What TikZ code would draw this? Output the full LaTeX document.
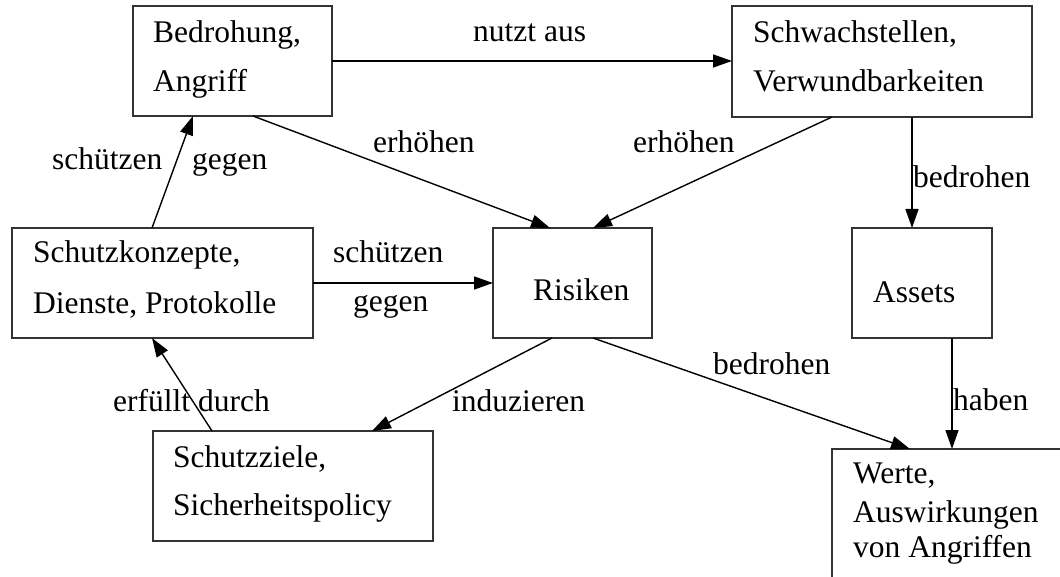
\documentclass[tikz,border=0pt]{standalone}
\usepackage{fontspec}
\setmainfont{Liberation Serif}
\usetikzlibrary{arrows.meta}
\begin{document}
\begin{tikzpicture}[x=1pt,y=-1pt,
  box/.style={draw=black!80,line width=1.8pt,inner sep=0pt,outer sep=0pt,anchor=north west},
  txt/.style={anchor=base west,inner sep=0pt,font=\fontsize{31.5}{40}\selectfont},
  conn/.style={line width=1.4pt,-{Triangle[length=19pt,width=13pt]}}]
\path[use as bounding box] (0,0) rectangle (1060,577);
\clip (0,0) rectangle (1060,577);

% boxes
\node[box,minimum width=199pt,minimum height=110pt] (bedr) at (133,6) {};
\node[box,minimum width=300pt,minimum height=111pt] (schw) at (732,6) {};
\node[box,minimum width=301pt,minimum height=110pt] (konz) at (12,228) {};
\node[box,minimum width=159pt,minimum height=110pt] (risk) at (493,228) {};
\node[box,minimum width=140pt,minimum height=110pt] (asse) at (852,228) {};
\node[box,minimum width=280pt,minimum height=110pt] (ziel) at (153,431) {};
\node[box,minimum width=260pt,minimum height=160pt] (wert) at (832,449) {};

% box texts
\node[txt] (tb1) at (153,43) {Bedrohung,};
\node[txt] (tb2) at (153,92) {Angriff};
\node[txt] (ts1) at (753,43) {Schwachstellen,};
\node[txt] (ts2) at (753,92) {Verwundbarkeiten};
\node[txt] (tk1) at (33,263) {Schutzkonzepte,};
\node[txt] (tk2) at (33,313) {Dienste, Protokolle};
\node[txt] (tr) at (533,301) {Risiken};
\node[txt] (ta) at (873,302) {Assets};
\node[txt] (tz1) at (173,467) {Schutzziele,};
\node[txt] (tz2) at (173,515) {Sicherheitspolicy};
\node[txt] (tw1) at (853,483) {Werte,};
\node[txt] (tw2) at (853,522) {Auswirkungen};
\node[txt] (tw3) at (853,557) {von Angriffen};

% connectors
\draw[conn] (bedr.east) -- (bedr.east -| schw.west);
\draw[conn] ([xshift=120pt]bedr.south west) -- ([xshift=57pt]risk.north west);
\draw[conn] ([xshift=100pt]schw.south west) -- ([xshift=100pt]risk.north west);
\draw[conn] ([xshift=180pt]schw.south west) -- ([xshift=60pt]asse.north west);
\draw[conn] ([xshift=140pt]konz.north west) -- ([xshift=60pt]bedr.south west);
\draw[conn] (konz.east) -- (konz.east -| risk.west);
\draw[conn] ([xshift=59pt]ziel.north west) -- ([xshift=140pt]konz.south west);
\draw[conn] ([xshift=59pt]risk.south west) -- ([xshift=219pt]ziel.north west);
\draw[conn] ([xshift=100pt]risk.south west) -- ([xshift=78pt]wert.north west);
\draw[conn] ([xshift=100pt]asse.south west) -- ([xshift=120pt]wert.north west);

% connector labels
\node[txt] (l1) at (473,42) {nutzt aus};
\node[txt] (l2) at (373,153) {erhöhen};
\node[txt] (l3) at (633,153) {erhöhen};
\node[txt] (l4) at (913,188) {bedrohen};
\node[txt] (l5a) at (52,170) {schützen};
\node[txt] (l5b) at (192,170) {gegen};
\node[txt] (l6a) at (333,263) {schützen};
\node[txt] (l6b) at (353,312) {gegen};
\node[txt] (l7) at (113,411) {erfüllt durch};
\node[txt] (l8) at (452,411) {induzieren};
\node[txt] (l9) at (713,374) {bedrohen};
\node[txt] (l10) at (953,410) {haben};
\end{tikzpicture}
\end{document}
